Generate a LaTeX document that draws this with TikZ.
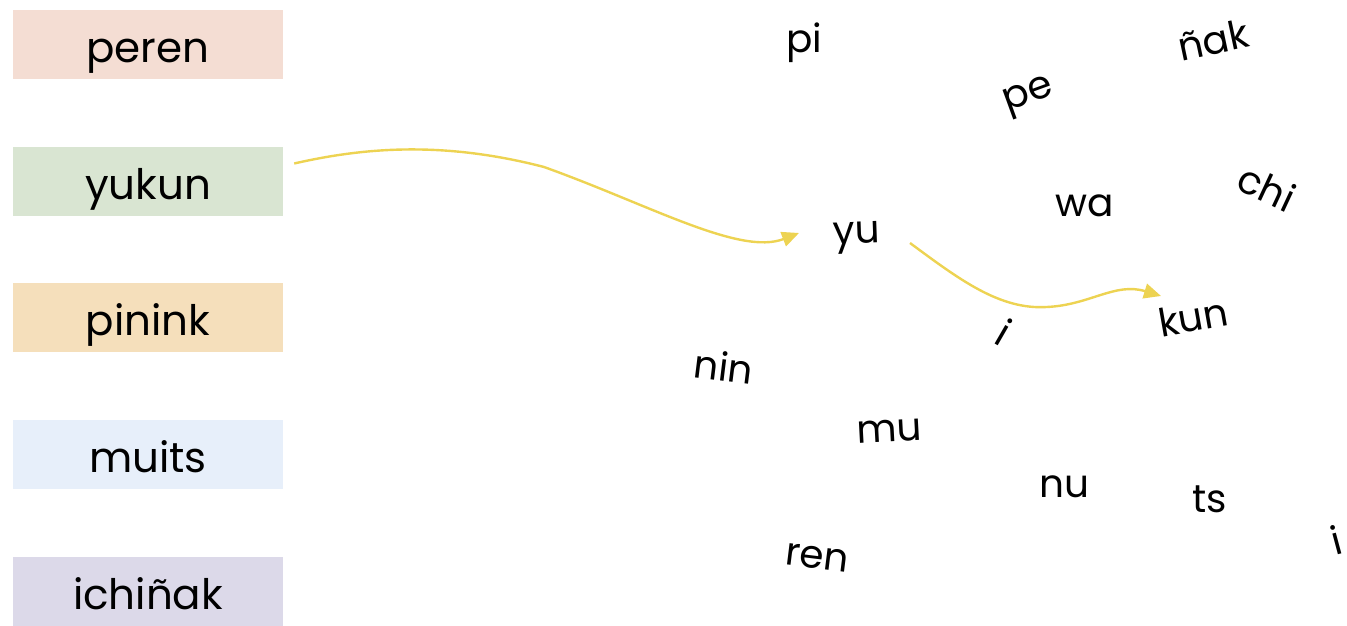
\documentclass[tikz,border=0pt]{standalone}
\usepackage{fontspec}
\setmainfont{Poppins}
\usetikzlibrary{arrows.meta}
\definecolor{cperen}{HTML}{F4DDD3}
\definecolor{cyukun}{HTML}{D9E5D2}
\definecolor{cpinink}{HTML}{F5DFBB}
\definecolor{cmuits}{HTML}{E7EFFA}
\definecolor{cichinak}{HTML}{DCD9E9}
\definecolor{carrow}{HTML}{EDD352}
\tikzset{
  labelbox/.style={minimum width=270pt, minimum height=69pt, inner sep=0pt,
    text height=37pt, text depth=0pt,
    font=\fontsize{42}{48}\selectfont, text=black},
  syl/.style={inner sep=0pt, font=\fontsize{39}{45}\selectfont, text=black},
  link/.style={draw=carrow, line width=2.4pt,
    -{Triangle[length=17pt,width=15pt]}}
}
\begin{document}
\begin{tikzpicture}[x=1pt,y=1pt]
\useasboundingbox (0,0) rectangle (1347,626);
% left boxes
\node[labelbox, fill=cperen]   (peren)   at (148,581.5) {peren};
\node[labelbox, fill=cyukun]   (yukun)   at (148,444.5) {yukun};
\node[labelbox, fill=cpinink]  (pinink)  at (148,308.5) {pinink};
\node[labelbox, fill=cmuits]   (muits)   at (148,171.5) {muits};
\node[labelbox, fill=cichinak] (ichinak) at (148,34.5)  {ichiñak};
% syllables
\node[syl] (pi)   at (804,583) {pi};
\node[syl, rotate=12] (nak) at (1213,586) {ñak};
\node[syl, rotate=20] (pe)  at (1029,529) {pe};
\node[syl, rotate=-25] (chi) at (1267,438) {chi};
\node[syl] (wa)   at (1085,420) {wa};
\node[syl, rotate=2] (yu) at (857,388) {yu};
\node[syl, rotate=10] (kun) at (1193,309) {kun};
\node[syl, rotate=-30] (i1) at (1004,294) {i};
\node[syl, rotate=-7] (nin) at (724,260) {nin};
\node[syl, rotate=3] (mu) at (889,195) {mu};
\node[syl] (nu)   at (1064,139) {nu};
\node[syl] (ts)   at (1210,127) {ts};
\node[syl, rotate=15] (i2) at (1336,86) {i};
\node[syl, rotate=-7] (ren) at (817,68) {ren};
% connectors
\draw[link] ([xshift=11pt,yshift=18pt]yukun.east)
  .. controls +(66,15) and (440,486) .. (544,459)
  .. controls (650,421) and (740,370) .. ([xshift=-58pt,yshift=5pt]yu.center);
\draw[link] ([xshift=53pt,yshift=-5pt]yu.center)
  .. controls (960,346) and (1000,316) .. (1047,319)
  .. controls (1090,321) and (1115,344) .. ([xshift=-32pt,yshift=21pt]kun.center);
\end{tikzpicture}
\end{document}
